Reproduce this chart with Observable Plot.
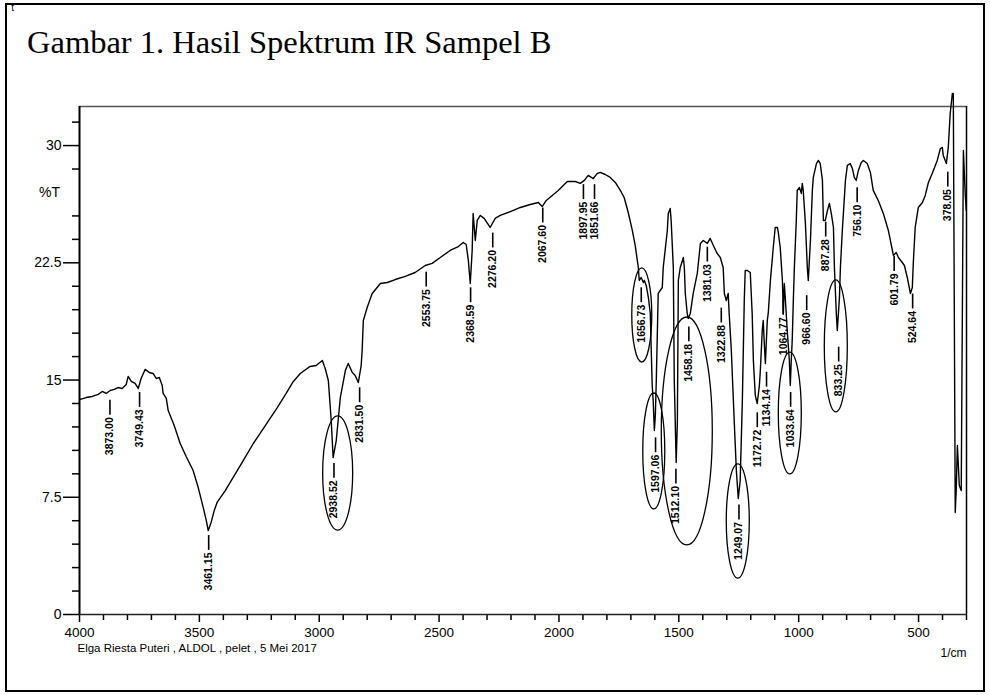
<!DOCTYPE html>
<html><head><meta charset="utf-8">
<script src="https://cdn.jsdelivr.net/npm/d3@7"></script>
<script src="https://cdn.jsdelivr.net/npm/@observablehq/plot@0.6"></script>
<style>
html,body{margin:0;padding:0;background:#fff;}
#wrap{position:relative;width:990px;height:695px;overflow:hidden;background:#fff;}
#border{position:absolute;left:5px;top:3px;width:976px;height:685px;border:2px solid #000;}
#title{position:absolute;left:27px;top:24px;font-family:"Liberation Serif","Times New Roman",serif;font-size:32.5px;color:#000;white-space:nowrap;}
#chart{position:absolute;left:0;top:0;}
</style></head><body>
<div id="wrap"><div id="border"></div><div id="title">Gambar 1. Hasil Spektrum IR Sampel B</div><div id="chart"></div></div>
<script>
// IR spectrum: [wavenumber (1/cm), %T]
const spectrum = [[3997,13.76],[3972,13.88],[3947,13.95],[3922,14.08],[3905,14.27],[3889,14.14],[3872,14.33],[3855,14.40],[3839,14.52],[3822,14.46],[3805,14.72],[3797,15.23],[3784,14.91],[3768,14.78],[3755,14.46],[3743,15.10],[3726,15.68],[3709,15.48],[3693,15.42],[3680,15.10],[3667,15.16],[3655,14.65],[3651,14.14],[3638,13.82],[3630,13.05],[3605,12.09],[3580,10.94],[3555,10.11],[3526,9.21],[3505,8.13],[3484,6.85],[3471,6.01],[3463,5.37],[3451,5.89],[3438,6.65],[3426,7.17],[3392,7.93],[3359,8.77],[3317,9.85],[3275,10.94],[3225,12.09],[3175,13.24],[3138,14.14],[3108,14.91],[3079,15.42],[3038,15.87],[3013,15.93],[2987,16.25],[2975,15.74],[2962,14.97],[2950,12.41],[2942,10.04],[2929,11.13],[2912,13.88],[2891,15.61],[2879,16.06],[2862,15.48],[2850,15.29],[2837,14.84],[2825,15.93],[2821,16.89],[2816,18.81],[2800,19.64],[2779,20.54],[2745,21.18],[2716,21.24],[2683,21.43],[2641,21.63],[2600,21.88],[2558,22.33],[2529,22.46],[2495,22.84],[2454,23.29],[2420,23.54],[2399,23.80],[2387,23.67],[2378,22.65],[2370,21.18],[2362,23.29],[2358,25.66],[2349,23.93],[2341,25.21],[2328,25.53],[2312,25.34],[2287,24.76],[2266,25.34],[2245,25.53],[2203,25.78],[2161,26.04],[2120,26.23],[2086,26.36],[2070,26.10],[2053,26.49],[2028,26.81],[2003,27.13],[1982,27.45],[1965,27.70],[1932,27.70],[1911,27.58],[1894,27.77],[1878,28.09],[1857,27.89],[1840,28.22],[1828,28.28],[1807,28.15],[1786,27.96],[1765,27.64],[1744,27.13],[1728,26.68],[1711,25.72],[1694,24.57],[1682,23.61],[1669,22.20],[1665,21.37],[1657,21.56],[1648,21.24],[1644,21.37],[1636,21.05],[1627,20.28],[1619,19.26],[1615,16.89],[1611,14.65],[1607,13.69],[1602,11.77],[1598,12.73],[1594,14.97],[1586,20.54],[1569,20.92],[1565,22.20],[1548,24.57],[1544,25.66],[1536,25.98],[1532,25.21],[1523,22.20],[1519,14.97],[1511,9.72],[1506,12.41],[1502,21.37],[1494,22.20],[1481,22.84],[1477,22.20],[1473,20.54],[1465,19.26],[1461,18.94],[1452,19.26],[1440,20.54],[1423,21.82],[1410,23.74],[1398,23.93],[1381,23.74],[1369,24.06],[1356,23.61],[1340,23.10],[1327,22.84],[1315,22.20],[1310,20.54],[1302,20.09],[1294,20.54],[1290,19.26],[1281,16.89],[1269,12.41],[1260,9.21],[1252,7.42],[1244,8.57],[1235,13.69],[1227,20.09],[1223,22.01],[1214,22.01],[1202,21.88],[1194,19.26],[1189,16.25],[1181,14.01],[1173,13.50],[1164,14.65],[1160,15.61],[1152,18.17],[1148,18.81],[1143,17.21],[1139,16.06],[1131,18.81],[1127,19.26],[1118,21.37],[1106,23.48],[1098,24.76],[1089,24.76],[1085,24.44],[1077,23.48],[1068,21.37],[1064,19.26],[1060,21.18],[1056,20.28],[1047,17.98],[1039,16.25],[1035,14.65],[1031,16.25],[1027,17.53],[1022,20.28],[1018,22.20],[1010,25.21],[1006,27.13],[997,27.32],[989,26.94],[985,27.58],[981,27.13],[972,25.02],[964,22.20],[960,21.37],[951,23.93],[943,27.13],[939,27.96],[926,28.85],[918,29.05],[910,28.85],[901,27.77],[897,25.21],[889,25.21],[880,25.85],[872,26.30],[864,25.66],[855,24.76],[851,22.20],[843,19.26],[839,18.17],[830,20.28],[826,22.20],[818,24.57],[805,27.77],[797,28.73],[785,28.85],[776,28.53],[768,27.96],[760,27.77],[751,28.41],[739,28.92],[730,29.05],[714,28.85],[701,28.28],[689,27.13],[668,26.49],[647,25.66],[626,24.57],[605,22.97],[593,23.16],[584,22.84],[568,22.52],[559,22.33],[547,21.56],[534,20.54],[526,20.92],[522,22.46],[514,24.76],[501,26.04],[484,26.36],[472,26.81],[459,27.64],[443,28.22],[422,29.05],[409,29.81],[401,29.88],[397,29.37],[384,28.85],[376,29.88],[368,32.05],[359,33.33],[355,33.33],[347,6.53],[343,7.93],[338,10.81],[330,8.25],[322,7.93],[313,29.69],[305,26.81],[301,25.85]];

// Peak labels (text as printed) and the %T where each label's dash begins
const peakLabels = ["3873.00","3749.43","3461.15","2938.52","2831.50","2553.75","2368.59","2276.20","2067.60","1897.95","1851.66","1656.73","1597.06","1512.10","1458.18","1381.03","1322.88","1249.07","1172.72","1134.14","1064.77","1033.64","966.60","887.28","833.25","756.10","601.79","524.64","378.05"];
const peakLabelT = [13.7,14.2,5.05,9.66,14.5,21.9,20.9,24.4,26.0,27.5,27.5,20.9,11.3,9.3,18.4,23.5,19.6,7.0,12.9,15.5,20.1,14.2,20.4,25.1,17.1,27.3,22.9,20.5,28.3];

// Highlight ellipses: centre wavenumber, centre %T, half-width (1/cm), half-height (%T)
const ellipseWn = [2921,1652.5,1602.4,1464.7,1252.0,1035.0,843.1];
const ellipseT = [9.02,19.13,10.43,11.71,5.95,12.86,17.15];
const ellipseHalfWidth = [62.6,41.7,45.9,106.4,48.0,48.0,48.0];
const ellipseHalfHeight = [3.65,3.01,3.71,7.29,3.65,3.90,4.22];

// Axes
const yTickValues = [0, 7.5, 15, 22.5, 30];
const yTickLabels = ["0", "7.5", "15", "22.5", "30"];
const yMinorTicks = [1.5,3,4.5,6,9,10.5,12,13.5,16.5,18,19.5,21,24,25.5,28.5,31.5];
const xTickValues = [4000,3500,3000,2500,2000,1500,1000,500];
const xMinorTicks = d3.range(300, 4001, 100).filter(v => v % 500 !== 0);
const yLabel = "%T";
const xUnit = "1/cm";
const caption = "Elga Riesta Puteri , ALDOL , pelet , 5 Mei 2017";

const peaks = peakLabels.map((label, i) => ({label, wn: parseFloat(label), t: peakLabelT[i]}));

function ellipseMark(index, scales) {
  const ns = "http://www.w3.org/2000/svg";
  const g = document.createElementNS(ns, "g");
  g.setAttribute("fill", "none");
  g.setAttribute("stroke", "#000");
  g.setAttribute("stroke-width", "1.3");
  ellipseWn.forEach((w, i) => {
    const e = document.createElementNS(ns, "ellipse");
    const cx = scales.x(w), cy = scales.y(ellipseT[i]);
    e.setAttribute("cx", cx);
    e.setAttribute("cy", cy);
    e.setAttribute("rx", Math.abs(scales.x(w - ellipseHalfWidth[i]) - cx));
    e.setAttribute("ry", Math.abs(scales.y(ellipseT[i] + ellipseHalfHeight[i]) - cy));
    g.appendChild(e);
  });
  return g;
}

const chart = Plot.plot({
  width: 990,
  height: 695,
  marginLeft: 79,
  marginRight: 24,
  marginTop: 106,
  marginBottom: 81,
  style: {fontFamily: "'Liberation Sans', Arial, sans-serif", color: "#000", background: "transparent", overflow: "visible"},
  x: {domain: [4000, 300]},
  y: {domain: [0, 32.5]},
  marks: [
    Plot.axisY({ticks: yMinorTicks, tickSize: 7, tickFormat: () => "", strokeWidth: 1.5}),
    Plot.axisY({ticks: yTickValues, tickSize: 16, tickPadding: 2, fontSize: 14, strokeWidth: 1.5,
      tickFormat: d => yTickLabels[yTickValues.indexOf(d)], label: null}),
    Plot.axisX({ticks: xMinorTicks, tickSize: 6, tickFormat: () => "", strokeWidth: 1.5, label: null}),
    Plot.axisX({ticks: xTickValues, tickSize: 8, tickPadding: 5, fontSize: 13.5, strokeWidth: 1.5,
      tickFormat: d => String(d), label: null}),
    Plot.ruleY([32.5], {stroke: "#555", strokeWidth: 1.5}),
    Plot.ruleX([300], {stroke: "#000", strokeWidth: 1.5}),
    Plot.ruleY([0], {stroke: "#222", strokeWidth: 1.5}),
    Plot.ruleX([4000], {stroke: "#000", strokeWidth: 2}),
    Plot.text([yLabel], {frameAnchor: "left", y: [27], dx: -30, textAnchor: "middle", fontSize: 14}),
    Plot.text([caption], {frameAnchor: "bottom-left", dx: -2, dy: 29, textAnchor: "start", lineAnchor: "top", fontSize: 11.5}),
    Plot.text([xUnit], {frameAnchor: "bottom-right", dy: 34, textAnchor: "end", lineAnchor: "top", fontSize: 12}),
    Plot.line(spectrum, {x: d => d[0], y: d => d[1], stroke: "#000", strokeWidth: 1.4}),
    Plot.ruleX(peaks, {x: "wn", y1: "t", y2: d => d.t - 0.95, stroke: "#000", strokeWidth: 1.6}),
    Plot.text(peaks, {x: "wn", y: d => d.t - 1.08, text: "label", rotate: -90, textAnchor: "end", lineAnchor: "middle", fontSize: 10.5, fontWeight: "bold"}),
    ellipseMark
  ]
});
document.getElementById("chart").appendChild(chart);
</script>
</body></html>
